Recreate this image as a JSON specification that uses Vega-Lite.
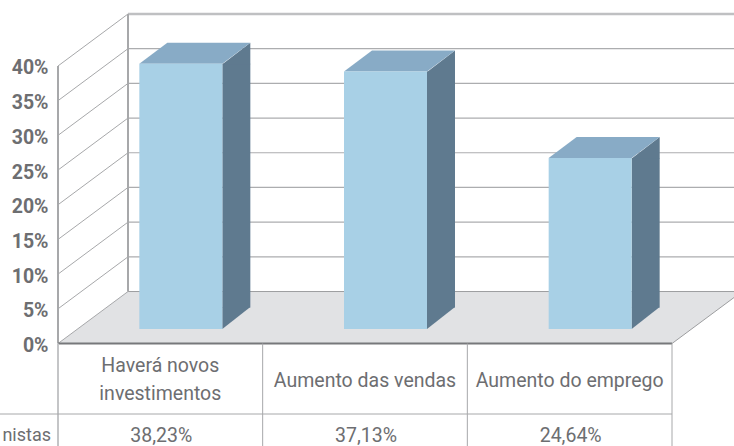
{
  "$schema": "https://vega.github.io/schema/vega-lite/v6.json",
  "width": 614,
  "height": 446,
  "autosize": "none",
  "padding": {"left": 58, "right": 62, "top": 0, "bottom": 0},
  "background": "white",
  "config": {"view": {"stroke": null}},
  "datasets": {
    "barras": [
      {"posicao": 1, "categoria": "Haverá novos\ninvestimentos", "valor": 0.3823, "rotulo": "38,23%"},
      {"posicao": 2, "categoria": "Aumento das vendas", "valor": 0.3713, "rotulo": "37,13%"},
      {"posicao": 3, "categoria": "Aumento do emprego", "valor": 0.2464, "rotulo": "24,64%"}
    ],
    "grade": [
      {"marca": 0}, {"marca": 0.05}, {"marca": 0.1}, {"marca": 0.15}, {"marca": 0.2},
      {"marca": 0.25}, {"marca": 0.3}, {"marca": 0.35}, {"marca": 0.4}
    ],
    "fracoes": [{"marca": 0.05}, {"marca": 0.1}, {"marca": 0.15}, {"marca": 0.2}, {"marca": 0.25}, {"marca": 0.3}, {"marca": 0.35}],
    "divisorias": [{"limite": 1.5}, {"limite": 2.5}, {"limite": 3.5}],
    "linha": [{"nome": "nistas"}]
  },
  "layer": [
    {
      "data": {"name": "linha"},
      "mark": {"type": "point", "shape": "M0,0 L70,-52 L676,-52 L676,-46 L614,0 Z", "size": 4, "filled": true, "fill": "#e1e2e4", "opacity": 1, "strokeWidth": 0},
      "encoding": {
        "x": {"datum": 0.5, "type": "quantitative", "scale": {"domain": [0.5, 3.5], "padding": 0}, "axis": null},
        "y": {"datum": 0, "type": "quantitative", "scale": {"domain": [-0.1477, 0.4951]},
          "axis": {"values": [0, 0.05, 0.1, 0.15, 0.2, 0.25, 0.3, 0.35, 0.4], "format": ".0%", "title": null, "domain": false, "ticks": false, "grid": false, "labelPadding": 10, "labelOffset": 2, "labelFont": "Roboto", "labelFontWeight": "bold", "labelFontSize": 19.5, "labelColor": "#6d6e71"}}
      }
    },
    {
      "data": {"name": "grade"},
      "mark": {"type": "rule", "color": "#a7a8aa", "strokeWidth": 1, "x2Offset": 70, "y2Offset": -52},
      "encoding": {
        "x": {"datum": 0.5, "type": "quantitative", "scale": {"domain": [0.5, 3.5], "padding": 0}},
        "x2": {"datum": 0.5},
        "y": {"field": "marca", "type": "quantitative", "scale": {"domain": [-0.1477, 0.4951]}},
        "y2": {"field": "marca"}
      }
    },
    {
      "data": {"name": "fracoes"},
      "mark": {"type": "rule", "color": "#acadaf", "strokeWidth": 1.2, "xOffset": 70, "x2Offset": 62, "yOffset": -52, "y2Offset": -52},
      "encoding": {
        "x": {"datum": 0.5, "type": "quantitative", "scale": {"domain": [0.5, 3.5], "padding": 0}},
        "x2": {"datum": 3.5},
        "y": {"field": "marca", "type": "quantitative", "scale": {"domain": [-0.1477, 0.4951]}}
      }
    },
    {
      "data": {"name": "linha"},
      "mark": {"type": "rule", "color": "#9d9ea0", "strokeWidth": 1, "xOffset": 70, "x2Offset": 62, "yOffset": -52},
      "encoding": {
        "x": {"datum": 0.5, "type": "quantitative", "scale": {"domain": [0.5, 3.5], "padding": 0}},
        "x2": {"datum": 3.5},
        "y": {"datum": 0, "type": "quantitative", "scale": {"domain": [-0.1477, 0.4951]}}
      }
    },
    {
      "data": {"name": "linha"},
      "mark": {"type": "rule", "color": "#bfc0c2", "strokeWidth": 2.5, "xOffset": 70, "x2Offset": 62, "yOffset": -52},
      "encoding": {
        "x": {"datum": 0.5, "type": "quantitative", "scale": {"domain": [0.5, 3.5], "padding": 0}},
        "x2": {"datum": 3.5},
        "y": {"datum": 0.4, "type": "quantitative", "scale": {"domain": [-0.1477, 0.4951]}}
      }
    },
    {
      "data": {"name": "linha"},
      "mark": {"type": "rule", "color": "#a7a8aa", "strokeWidth": 2, "xOffset": 70, "x2Offset": 70, "yOffset": -52, "y2Offset": -52},
      "encoding": {
        "x": {"datum": 0.5, "type": "quantitative", "scale": {"domain": [0.5, 3.5], "padding": 0}},
        "x2": {"datum": 0.5},
        "y": {"datum": 0, "type": "quantitative", "scale": {"domain": [-0.1477, 0.4951]}},
        "y2": {"datum": 0.4}
      }
    },
    {
      "data": {"name": "linha"},
      "mark": {"type": "rule", "color": "#a7a8aa", "strokeWidth": 2},
      "encoding": {
        "x": {"datum": 0.5, "type": "quantitative", "scale": {"domain": [0.5, 3.5], "padding": 0}},
        "y": {"datum": 0, "type": "quantitative", "scale": {"domain": [-0.1477, 0.4951]}},
        "y2": {"datum": 0.4}
      }
    },
    {
      "data": {"name": "linha"},
      "mark": {"type": "rule", "color": "#9d9ea0", "strokeWidth": 1, "x2Offset": 62, "y2Offset": -46},
      "encoding": {
        "x": {"datum": 3.5, "type": "quantitative", "scale": {"domain": [0.5, 3.5], "padding": 0}},
        "x2": {"datum": 3.5},
        "y": {"datum": 0, "type": "quantitative", "scale": {"domain": [-0.1477, 0.4951]}},
        "y2": {"datum": 0}
      }
    },
    {
      "data": {"name": "barras"},
      "mark": {"type": "bar", "width": 28, "color": "#5f7a8f", "xOffset": 76, "yOffset": -14.5, "y2Offset": -36},
      "encoding": {
        "x": {"field": "posicao", "type": "quantitative", "scale": {"domain": [0.5, 3.5], "padding": 0}},
        "y": {"field": "valor", "type": "quantitative", "scale": {"domain": [-0.1477, 0.4951]}},
        "y2": {"datum": 0}
      }
    },
    {
      "data": {"name": "barras"},
      "mark": {"type": "point", "shape": "M41.5,0.5 L69.5,-21 L69.5,0.5 Z", "size": 4, "filled": true, "fill": "#5f7a8f", "opacity": 1, "strokeWidth": 0, "xOffset": 20.5, "yOffset": -14.5},
      "encoding": {
        "x": {"field": "posicao", "type": "quantitative", "scale": {"domain": [0.5, 3.5], "padding": 0}},
        "y": {"field": "valor", "type": "quantitative", "scale": {"domain": [-0.1477, 0.4951]}}
      }
    },
    {
      "data": {"name": "barras"},
      "mark": {"type": "point", "shape": "M41.5,-14.5 L41.5,-36.5 L69.5,-36.5 Z", "size": 4, "filled": true, "fill": "#5f7a8f", "opacity": 1, "strokeWidth": 0, "xOffset": 20.5},
      "encoding": {
        "x": {"field": "posicao", "type": "quantitative", "scale": {"domain": [0.5, 3.5], "padding": 0}},
        "y": {"datum": 0, "type": "quantitative", "scale": {"domain": [-0.1477, 0.4951]}}
      }
    },
    {
      "data": {"name": "barras"},
      "mark": {"type": "point", "shape": "M-41.5,0 L41.5,0 L69.5,-21 L-13.5,-21 Z", "size": 4, "filled": true, "fill": "#88abc6", "opacity": 1, "strokeWidth": 0, "xOffset": 20.5, "yOffset": -14.5},
      "encoding": {
        "x": {"field": "posicao", "type": "quantitative", "scale": {"domain": [0.5, 3.5], "padding": 0}},
        "y": {"field": "valor", "type": "quantitative", "scale": {"domain": [-0.1477, 0.4951]}}
      }
    },
    {
      "data": {"name": "barras"},
      "mark": {"type": "bar", "width": 83, "color": "#a8d0e6", "xOffset": 20.5, "yOffset": -14.5, "y2Offset": -14.5},
      "encoding": {
        "x": {"field": "posicao", "type": "quantitative", "scale": {"domain": [0.5, 3.5], "padding": 0}},
        "y": {"field": "valor", "type": "quantitative", "scale": {"domain": [-0.1477, 0.4951]}},
        "y2": {"datum": 0}
      }
    },
    {
      "data": {"name": "linha"},
      "mark": {"type": "rule", "color": "#77787b", "strokeWidth": 2},
      "encoding": {
        "x": {"datum": 0.5, "type": "quantitative", "scale": {"domain": [0.5, 3.5], "padding": 0}},
        "x2": {"datum": 3.5},
        "y": {"datum": 0, "type": "quantitative", "scale": {"domain": [-0.1477, 0.4951]}}
      }
    },
    {
      "data": {"name": "linha"},
      "mark": {"type": "rule", "color": "#c4c5c7", "strokeWidth": 2},
      "encoding": {
        "x": {"datum": 0.5, "type": "quantitative", "scale": {"domain": [0.5, 3.5], "padding": 0}},
        "y": {"datum": 0, "type": "quantitative", "scale": {"domain": [-0.1477, 0.4951]}},
        "y2": {"datum": -0.1477}
      }
    },
    {
      "data": {"name": "divisorias"},
      "mark": {"type": "rule", "color": "#a7a8aa", "strokeWidth": 1},
      "encoding": {
        "x": {"field": "limite", "type": "quantitative", "scale": {"domain": [0.5, 3.5], "padding": 0}},
        "y": {"datum": 0, "type": "quantitative", "scale": {"domain": [-0.1477, 0.4951]}},
        "y2": {"datum": -0.1477}
      }
    },
    {
      "data": {"name": "linha"},
      "mark": {"type": "rule", "color": "#a7a8aa", "strokeWidth": 1, "xOffset": -58},
      "encoding": {
        "x": {"datum": 0.5, "type": "quantitative", "scale": {"domain": [0.5, 3.5], "padding": 0}},
        "x2": {"datum": 3.5},
        "y": {"datum": -0.1016, "type": "quantitative", "scale": {"domain": [-0.1477, 0.4951]}}
      }
    },
    {
      "data": {"name": "barras"},
      "transform": [{"filter": "datum.posicao > 1"}],
      "mark": {"type": "text", "font": "Roboto", "fontSize": 19.5, "letterSpacing": 0.25, "color": "#6d6e71", "baseline": "middle", "align": "center", "limit": 0},
      "encoding": {
        "x": {"field": "posicao", "type": "quantitative", "scale": {"domain": [0.5, 3.5], "padding": 0}},
        "y": {"datum": -0.054, "type": "quantitative", "scale": {"domain": [-0.1477, 0.4951]}},
        "text": {"field": "categoria"}
      }
    },
    {
      "data": {"name": "barras"},
      "transform": [{"filter": "datum.posicao == 1"}],
      "mark": {"type": "text", "font": "Roboto", "fontSize": 19.5, "letterSpacing": 0.25, "color": "#6d6e71", "lineBreak": "\n", "lineHeight": 28, "baseline": "middle", "align": "center", "limit": 0},
      "encoding": {
        "x": {"field": "posicao", "type": "quantitative", "scale": {"domain": [0.5, 3.5], "padding": 0}},
        "y": {"datum": -0.0325, "type": "quantitative", "scale": {"domain": [-0.1477, 0.4951]}},
        "text": {"field": "categoria"}
      }
    },
    {
      "data": {"name": "barras"},
      "mark": {"type": "text", "font": "Roboto", "fontSize": 19.5, "color": "#6d6e71", "baseline": "middle", "align": "center", "xOffset": 1},
      "encoding": {
        "x": {"field": "posicao", "type": "quantitative", "scale": {"domain": [0.5, 3.5], "padding": 0}},
        "y": {"datum": -0.1335, "type": "quantitative", "scale": {"domain": [-0.1477, 0.4951]}},
        "text": {"field": "rotulo"}
      }
    },
    {
      "data": {"name": "linha"},
      "mark": {"type": "text", "font": "Roboto", "fontSize": 18, "color": "#6d6e71", "baseline": "middle", "align": "right", "xOffset": -7},
      "encoding": {
        "x": {"datum": 0.5, "type": "quantitative", "scale": {"domain": [0.5, 3.5], "padding": 0}},
        "y": {"datum": -0.1335, "type": "quantitative", "scale": {"domain": [-0.1477, 0.4951]}},
        "text": {"field": "nome"}
      }
    }
  ]
}
